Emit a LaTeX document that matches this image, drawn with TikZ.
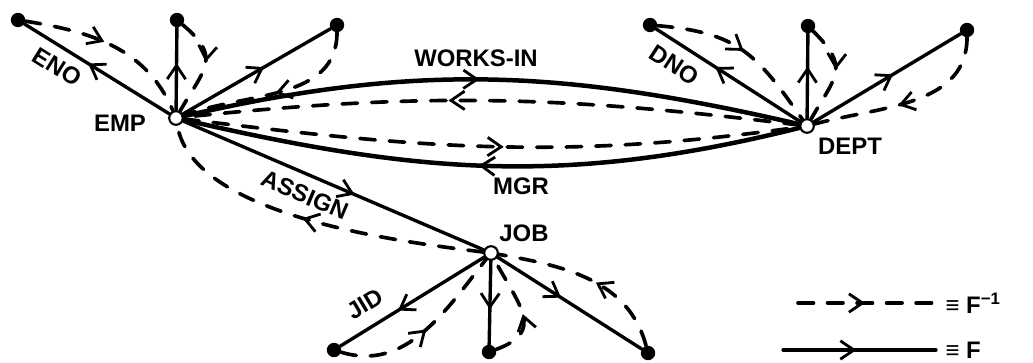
\documentclass[tikz,border=0pt]{standalone}
\usepackage{fontspec}
\setmainfont{Liberation Sans}
\usetikzlibrary{arrows.meta, decorations.markings}

\begin{document}
\begin{tikzpicture}[
  entity/.style={circle, draw, fill=white, line width=1.5pt,
    minimum size=3.4mm, inner sep=0pt},
  leaf/.style={circle, fill=black, minimum size=3.6mm, inner sep=0pt},
  lbl/.style={font=\fontsize{17}{20}\selectfont\bfseries, inner sep=1pt},
  hand/.tip={Straight Barb[length=3.4mm, width=4.6mm, line width=2pt]},
  fmap/.style={line width=2.4pt, line cap=round, postaction={decorate},
    decoration={markings, mark=at position #1 with {\arrow{hand}}}},
  fmap/.default=0.55,
  finv/.style={fmap=#1, line width=2.6pt, dash pattern=on 11pt off 10pt},
  finv/.default=0.5,
  rel/.style={fmap=#1, line width=3.2pt},
]
\useasboundingbox (0,0) rectangle (25.825,9.05);

% Entities
\node[entity] (emp) at (4.4,6.1) {};
\node[entity] (dept) at (20.175,5.9) {};
\node[entity] (job) at (12.275,2.725) {};

% Attribute ends
\node[leaf] (e1) at (0.45,8.55) {};
\node[leaf] (e2) at (4.425,8.55) {};
\node[leaf] (e3) at (8.425,8.425) {};
\node[leaf] (d1) at (16.25,8.425) {};
\node[leaf] (d2) at (20.2,8.4) {};
\node[leaf] (d3) at (24.175,8.3) {};
\node[leaf] (j1) at (8.35,0.3) {};
\node[leaf] (j2) at (12.225,0.25) {};
\node[leaf] (j3) at (16.2,0.225) {};

% ============================================================
% EMP attributes
% ============================================================
\draw[fmap=0.56] (emp) -- (e1);
\draw[fmap=0.57] (emp) -- (e2);
\draw[fmap=0.55] (emp) -- (e3);
\draw[finv=0.45] (e1) to[out=-9, in=113] (emp);
\draw[finv=0.45] (e2) to[out=-40, in=60, looseness=1.5] (emp);
\draw[finv=0.5] (e3) to[out=-90, in=20] (emp);

% ============================================================
% DEPT attributes
% ============================================================
\draw[fmap=0.59] (dept) -- (d1);
\draw[fmap=0.61] (dept) -- (d2);
\draw[fmap=0.54] (dept) -- (d3);
\draw[finv=0.5] (d1) to[out=-5, in=125, looseness=1.2] (dept);
\draw[finv=0.45] (d2) to[out=-45, in=60, looseness=1.5] (dept);
\draw[finv=0.55] (d3) to[out=-90, in=15] (dept);

% ============================================================
% JOB attributes
% ============================================================
\draw[fmap=0.6] (job) -- (j1);
\draw[fmap=0.58] (job) -- (j2);
\draw[fmap=0.44] (job) -- (j3);
\draw[finv=0.5] (j1) to[out=-17, in=-128] (job);
\draw[finv=0.45] (j2) to[out=20, in=-62, looseness=1.5] (job);
\draw[finv=0.45] (j3) to[out=105, in=-10] (job);

% ============================================================
% Relationships
% ============================================================
\draw[rel=0.48] (emp) to[out=13, in=167] (dept);
\draw[finv=0.57] (dept) to[out=173, in=6] (emp);
\draw[finv=0.52] (emp) to[out=-7, in=-172] (dept);
\draw[rel=0.52] (dept) to[out=-166, in=-13] (emp);
\draw[fmap=0.57] (emp) -- (job);
\draw[finv=0.53] (job) to[out=173, in=-80, looseness=0.7] (emp);

% Labels
\node[lbl] (emplbl) at (3.0,5.975) {EMP};
\node[lbl] (deptlbl) at (21.25,5.4) {DEPT};
\node[lbl] (joblbl) at (13.1,3.225) {JOB};
\node[lbl] (works) at (11.9,7.6) {WORKS-IN};
\node[lbl] (mgr) at (13.025,4.4) {MGR};
\node[lbl, rotate=-23] (assign) at (7.62,4.17) {ASSIGN};
\node[lbl, rotate=-32] (eno) at (1.43,7.38) {ENO};
\node[lbl, rotate=-33] (dno) at (16.86,7.43) {DNO};
\node[lbl, rotate=31] (jid) at (9.13,1.45) {JID};

% Legend
\coordinate (lga) at (19.95,1.475);
\coordinate (lgb) at (23.3,1.475);
\coordinate (lgc) at (19.575,0.3);
\coordinate (lgd) at (23.4,0.3);
\draw[finv=0.5] (lga) -- (lgb);
\draw[fmap=0.48] (lgc) -- (lgd);
\node[lbl, anchor=west] (finvlbl) at (23.6,1.475) {≡ F\textsuperscript{−1}};
\node[lbl, anchor=west] (fmaplbl) at (23.6,0.3) {≡ F};

\end{tikzpicture}
\end{document}
